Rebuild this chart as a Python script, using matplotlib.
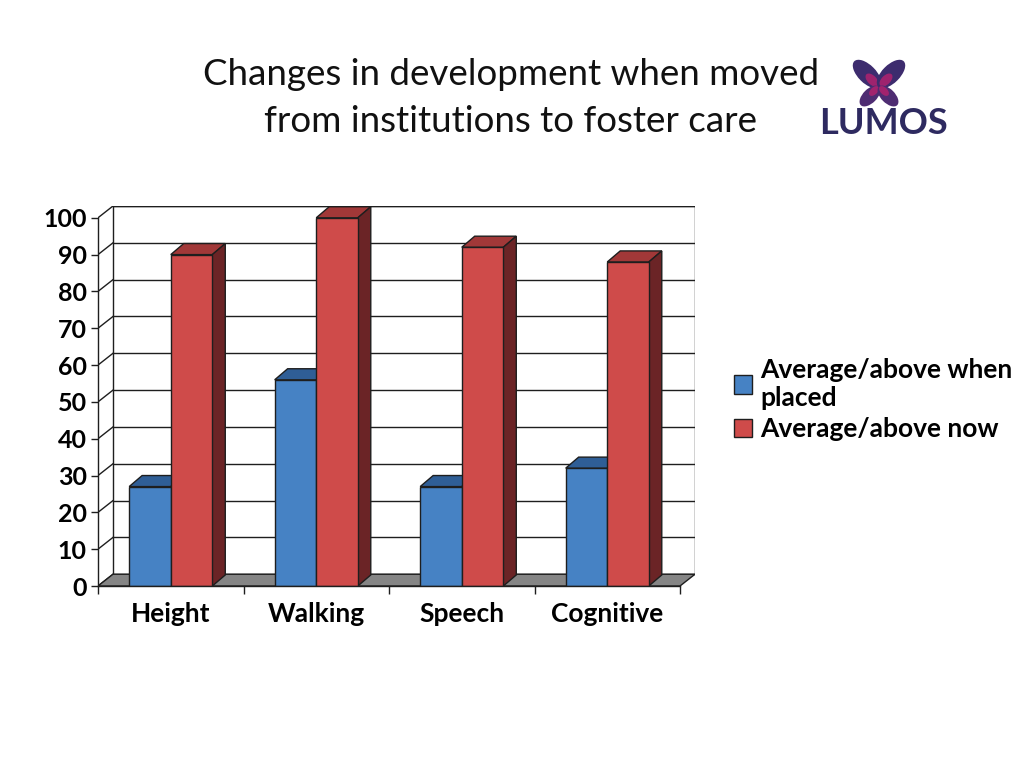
import numpy as np
import matplotlib
matplotlib.use("Agg")
import matplotlib.pyplot as plt
from matplotlib.patches import Polygon, Ellipse, Rectangle

# %% DATA

categories = ["Height", "Walking", "Speech", "Cognitive"]
placed = [27, 56, 27, 32]
now = [90, 100, 92, 88]
series_names = ["Average/above when\nplaced", "Average/above now"]
yticks = list(range(0, 101, 10))

# %% STYLE

FONT = "Lato"
blue_front, blue_top, blue_side = "#4682C4", "#2F5E96", "#22466F"
red_front, red_top, red_side = "#CF4B4A", "#A13838", "#6B2426"
edge = "#1E1E1E"

# %% FIGURE

fig = plt.figure(figsize=(10.24, 7.68), dpi=100)
W, H = 1024, 768

# axes box in pixel coords: front-left axis at x=98, back wall right at 695
left, right, top, bottom = 98, 695, 206, 586
ax = fig.add_axes([left / W, 1 - bottom / H, (right - left) / W, (bottom - top) / H])

n = len(categories)
dxw, dyw = 0.103, 3.2        # depth of walls
dxb, dyb = 0.089, 3.0        # depth of bars
ax.set_xlim(0, n + dxw)
ax.set_ylim(0, 100 + dyw)

# back wall
ax.add_patch(Rectangle((dxw, dyw), n, 100, facecolor="white", edgecolor=edge, lw=1.0, zorder=1))
for v in yticks[1:]:
    ax.plot([dxw, n + dxw], [v + dyw, v + dyw], color=edge, lw=1.0, zorder=1)
# left wall diagonals
for v in yticks:
    ax.plot([0, dxw], [v, v + dyw], color=edge, lw=1.0, zorder=1)
# floor
ax.add_patch(Polygon([(0, 0), (n, 0), (n + dxw, dyw), (dxw, dyw)],
                     facecolor="#858585", edgecolor=edge, lw=1.0, zorder=2))

# bars
w = 1 / 3.5
off = 0.75 / 3.5


def bar3d(x0, v, front, topc, side):
    x1 = x0 + w
    ax.add_patch(Polygon([(x0, v), (x1, v), (x1 + dxb, v + dyb), (x0 + dxb, v + dyb)],
                         facecolor=topc, edgecolor=edge, lw=1.0, zorder=3))
    ax.add_patch(Polygon([(x1, 0), (x1, v), (x1 + dxb, v + dyb), (x1 + dxb, dyb)],
                         facecolor=side, edgecolor=edge, lw=1.0, zorder=3))
    ax.add_patch(Rectangle((x0, 0), w, v, facecolor=front, edgecolor=edge, lw=1.0, zorder=3))


for i in range(n):
    bar3d(i + off, placed[i], blue_front, blue_top, blue_side)
    bar3d(i + off + w, now[i], red_front, red_top, red_side)

# axes: front-left and bottom
for s in ["top", "right"]:
    ax.spines[s].set_visible(False)
ax.spines["left"].set_bounds(0, 100)
ax.spines["bottom"].set_bounds(0, n)
for s in ["left", "bottom"]:
    ax.spines[s].set_color(edge)
    ax.spines[s].set_linewidth(1.0)
    ax.spines[s].set_zorder(4)

ax.set_yticks(yticks)
ax.set_yticklabels([str(v) for v in yticks], fontsize=18, fontweight="bold", family=FONT)
ax.tick_params(axis="y", length=5, width=1.0, color=edge, pad=3)

ax.set_xticks(np.arange(n + 1))
ax.set_xticklabels([])
ax.set_xticks(np.arange(n) + 0.5, minor=True)
ax.set_xticklabels(categories, minor=True, fontsize=19, fontweight="bold", family=FONT)
ax.tick_params(axis="x", which="major", length=6, width=1.0, color=edge)
ax.tick_params(axis="x", which="minor", length=0, pad=11.5)

# legend
handles = [Rectangle((0, 0), 1, 1, facecolor=blue_front, edgecolor=edge, lw=1.0),
           Rectangle((0, 0), 1, 1, facecolor=red_front, edgecolor=edge, lw=1.0)]
fig.legend(handles, series_names, loc="upper left", bbox_to_anchor=(723 / W, 1 - 347 / H),
           frameon=False, prop={"family": FONT, "weight": "bold", "size": 19},
           handlelength=0.7, handleheight=0.7, handletextpad=0.3, labelspacing=0.3,
           borderaxespad=0)

# title
fig.text(511 / W, 1 - 98 / H, "Changes in development when moved\nfrom institutions to foster care",
         ha="center", va="center", fontsize=26.5, family=FONT, color="#111111", linespacing=1.55)

# logo: butterfly + LUMOS
lax = fig.add_axes([815 / W, 1 - 145 / H, 140 / W, 90 / H])
lax.set_xlim(815, 955)
lax.set_ylim(145, 55)
lax.axis("off")
cx, cy = 879, 86
for sx in (-1, 1):
    lax.add_patch(Ellipse((cx + sx * 12, cy - 12), 36, 18, angle=-sx * 45,
                          facecolor="#3D2C6E", edgecolor="none"))
    lax.add_patch(Ellipse((cx + sx * 7, cy - 6), 16, 9, angle=-sx * 45,
                          facecolor="#B0226E", edgecolor="none", alpha=0.85))
    lax.add_patch(Ellipse((cx + sx * 9, cy + 10), 26, 14, angle=sx * 45,
                          facecolor="#4E2C72", edgecolor="none"))
    lax.add_patch(Ellipse((cx + sx * 5, cy + 5), 12, 7, angle=sx * 45,
                          facecolor="#B0226E", edgecolor="none", alpha=0.85))
lax.text(883, 124, "LUMOS", ha="center", va="center", fontsize=26, fontweight="bold",
         family=FONT, color="#2E2A60")

fig.savefig("out.png", dpi=100)
